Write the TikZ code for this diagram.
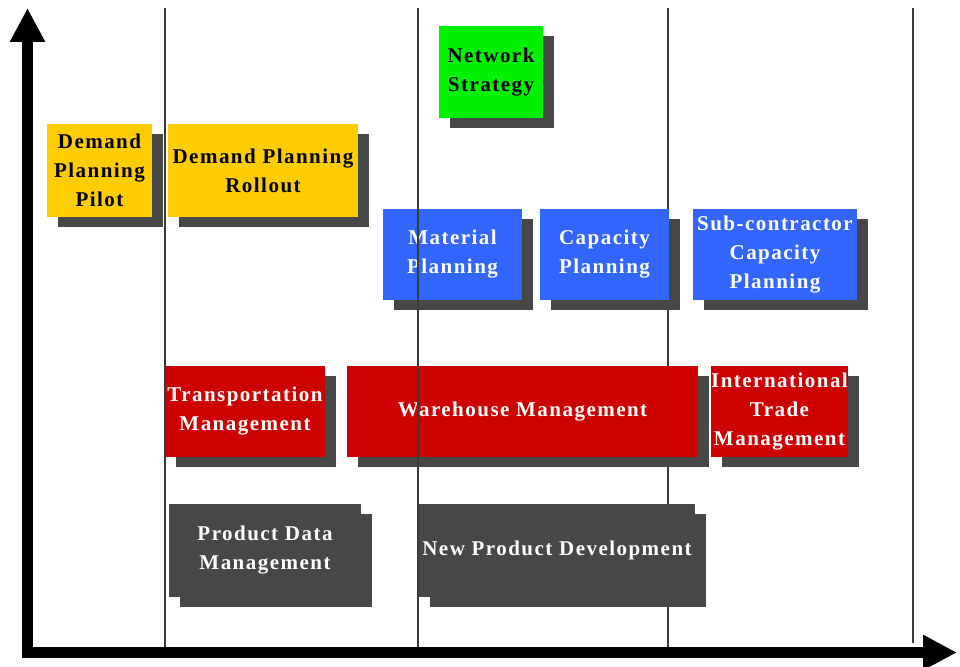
\documentclass[tikz,border=0pt]{standalone}
\usepackage{fontspec}
\setmainfont{Liberation Serif}
\newfontfamily\tagfont{Liberation Serif}[LetterSpace=7]
\usepackage{tikz}
\usetikzlibrary{arrows.meta, shadows, positioning}
\usepackage{xcolor}
\definecolor{planyellow}{HTML}{FFCC00}
\definecolor{stratgreen}{HTML}{00F000}
\definecolor{supplyblue}{HTML}{3366FF}
\definecolor{execred}{HTML}{CC0000}
\definecolor{prodgray}{HTML}{474747}
\definecolor{shadegray}{HTML}{474747}
\definecolor{gridgray}{HTML}{3A3A3A}
\tikzset{
  task/.style={
    rectangle, inner sep=0pt, align=center,
    font=\tagfont\bfseries\fontsize{21}{29}\selectfont,
    general shadow={fill=shadegray, shadow xshift=11pt, shadow yshift=-10pt}
  },
  lightbox/.style={task, fill=#1, text=black},
  darkbox/.style={task, fill=#1, text=white},
  axis/.style={line width=11pt, -{Triangle[length=34pt, width=33pt]}},
  gridline/.style={draw=gridgray, line width=1.5pt},
}

\begin{document}
\begin{tikzpicture}[x=1pt, y=-1pt]
\useasboundingbox (0,0) rectangle (960,666);

% Phase separators behind the boxes
\draw[gridline] (668,8) -- (668,647);
\draw[gridline] (913,8) -- (913,643);

% Planning
\node[lightbox=planyellow, minimum width=105pt, minimum height=93pt] (pilot) at (99.5,170.5) {Demand\\Planning\\Pilot};
\node[lightbox=planyellow, minimum width=190pt, minimum height=93pt] (rollout) at (263,170.5) {Demand Planning\\Rollout};
\node[lightbox=stratgreen, minimum width=104pt, minimum height=92pt] (network) at (491,72) {Network\\Strategy};

% Supply planning
\node[darkbox=supplyblue, minimum width=139pt, minimum height=91pt] (material) at (452.5,254.5) {Material\\Planning};
\node[darkbox=supplyblue, minimum width=129pt, minimum height=91pt] (capacity) at (604.5,254.5) {Capacity\\Planning};
\node[darkbox=supplyblue, minimum width=164pt, minimum height=91pt] (subcon) at (775,254.5) {Sub-contractor\\Capacity\\Planning};

% Execution
\node[darkbox=execred, minimum width=160pt, minimum height=91pt] (transport) at (245,411.5) {Transportation\\Management};
\node[darkbox=execred, minimum width=351pt, minimum height=91pt] (warehouse) at (522.5,411.5) {Warehouse Management};
\node[darkbox=execred, minimum width=135pt, minimum height=91pt] (trade) at (779.5,411.5) {International\\Trade\\Management};

% Product
\node[darkbox=prodgray, minimum width=192pt, minimum height=93pt] (pdm) at (265,550.5) {Product Data\\Management};
\node[darkbox=prodgray, minimum width=276pt, minimum height=93pt] (npd) at (557,550.5) {New Product Development};

% Phase separators in front
\draw[gridline] (165,8) -- (165,647);
\draw[gridline] (418,8) -- (418,647);

% Axes
\coordinate (ybase) at (27.5,658);
\coordinate (ytip) at (27.5,8);
\coordinate (xbase) at (22,652.5);
\coordinate (xtip) at (957,652.5);
\draw[axis] (ybase) -- (ytip);
\draw[axis] (xbase) -- (xtip);
\end{tikzpicture}
\end{document}
